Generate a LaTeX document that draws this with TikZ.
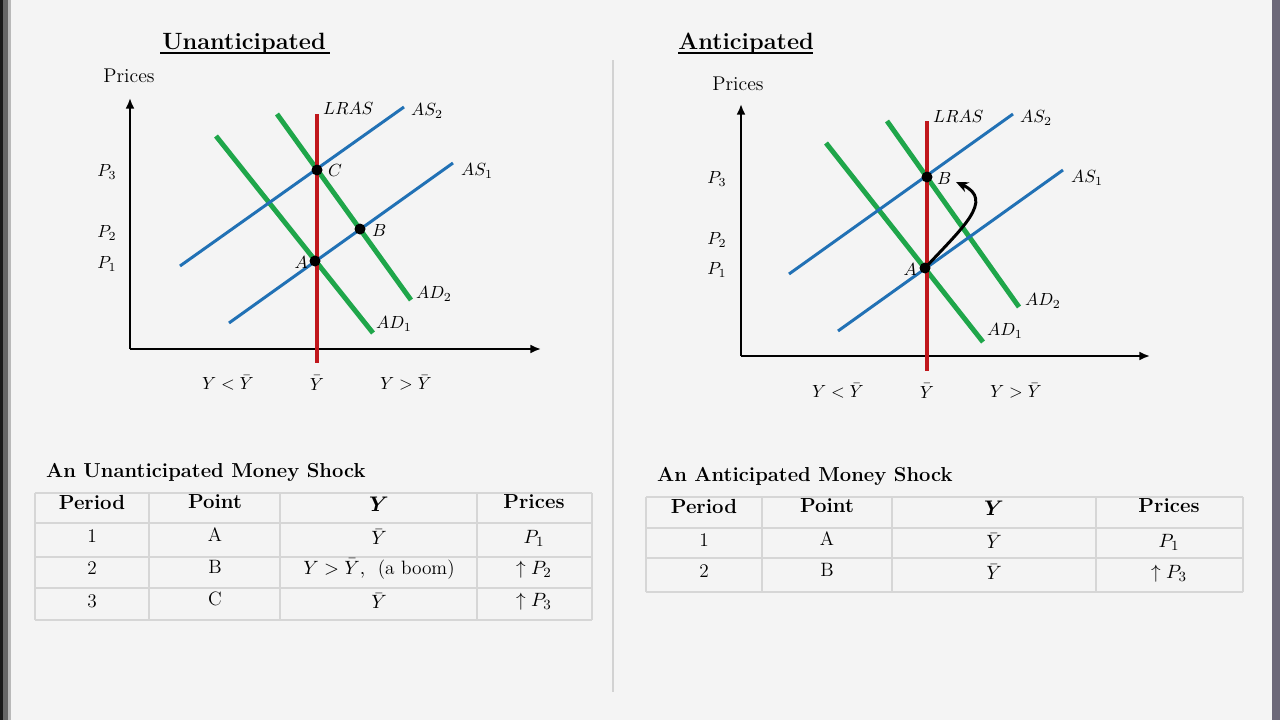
\documentclass[tikz,border=0pt]{standalone}
\usepackage{amsmath}
\usetikzlibrary{arrows.meta}
\definecolor{bg}{HTML}{F4F4F4}
\definecolor{asblue}{HTML}{2171B5}
\definecolor{adgreen}{HTML}{1FA64A}
\definecolor{lrasred}{HTML}{C0171C}
\definecolor{tblline}{HTML}{D6D6D6}
\definecolor{edgeR}{HTML}{6C6878}
\tikzset{
  lbl/.style={inner sep=1pt, font=\fontsize{10}{12}\selectfont},
  txt/.style={inner sep=1pt, font=\fontsize{11.3}{13}\selectfont},
  ttl/.style={inner sep=1pt, font=\fontsize{13.4}{15}\selectfont\bfseries},
  sub/.style={inner sep=1pt, font=\fontsize{11.5}{13}\selectfont\bfseries},
  hdr/.style={inner sep=0pt, font=\fontsize{11.6}{13}\selectfont\bfseries},
  cell/.style={inner sep=0pt, font=\fontsize{11}{13}\selectfont},
  axis/.style={line width=1.1pt, -{Latex[length=6pt,width=5pt]}},
  asline/.style={asblue, line width=1.7pt},
  adline/.style={adgreen, line width=2.8pt},
  lras/.style={lrasred, line width=2.2pt},
  tbl/.style={tblline, line width=0.8pt},
  dot/.style={fill=black},
}
\begin{document}
\begin{tikzpicture}[x=0.02cm,y=-0.02cm]
\useasboundingbox (0,0) rectangle (1280,720);
\fill[bg] (0,0) rectangle (1280,720);
% window edges
\fill[black!90] (0,0) rectangle (3,720);
\fill[gray!80!black] (3,0) rectangle (8,720);
\fill[gray!55] (8,0) rectangle (11,720);
\fill[edgeR] (1272,0) rectangle (1280,720);
% divider
\draw[gray!35, line width=0.8pt] (613,60) -- (613,692);

% ================= LEFT GRAPH =================
\node[ttl, anchor=base] (tL) at (244,49) {Unanticipated};
\draw[line width=0.8pt] (160,53) -- (330,53);
\node[txt] (pricesL) at (129,76) {Prices};
\coordinate (oL) at (130,349);
\draw[axis] (oL) -- (130,98);
\draw[axis] (oL) -- (541,349);
\draw[adline] (216,136) -- (373,333);
\draw[adline] (277,114) -- (411,300);
\draw[asline] (180,266) -- (404,107);
\draw[asline] (229,323) -- (453,163);
\draw[lras] (317,114) -- (317,363);
\coordinate (CL) at (317,170);
\coordinate (BL) at (360,229);
\coordinate (AL) at (315,261);
\fill[dot] (CL) circle[radius=0.11cm];
\fill[dot] (BL) circle[radius=0.11cm];
\fill[dot] (AL) circle[radius=0.11cm];
\node[lbl, anchor=west] (lrasL) at (321,108) {$LRAS$};
\node[lbl, anchor=west] (as2L) at (409,111) {$AS_2$};
\node[lbl, anchor=west] (as1L) at (459,171) {$AS_1$};
\node[lbl, anchor=west] (ad2L) at (414,294) {$AD_2$};
\node[lbl, anchor=west] (ad1L) at (374,324) {$AD_1$};
\node[lbl, anchor=west] (cL) at (326,170) {$C$};
\node[lbl, anchor=west] (bL) at (370,230) {$B$};
\node[lbl, anchor=east] (aL) at (310,262) {$A$};
\node[lbl] (p3L) at (107,172) {$P_3$};
\node[lbl] (p2L) at (107,233) {$P_2$};
\node[lbl] (p1L) at (107,264) {$P_1$};
\node[lbl] (ylL) at (228,383) {$Y<\bar{Y}$};
\node[lbl] (ybL) at (317,383) {$\bar{Y}$};
\node[lbl] (ygL) at (406,383) {$Y>\bar{Y}$};

% ================= RIGHT GRAPH =================
\node[ttl, anchor=base] (tR) at (746,49) {Anticipated};
\draw[line width=0.8pt] (678,53) -- (813,53);
\node[txt] (pricesR) at (738,84) {Prices};
\coordinate (oR) at (741,356);
\draw[axis] (oR) -- (741,104);
\draw[axis] (oR) -- (1150,356);
\draw[adline] (826,143) -- (983,342);
\draw[adline] (887,121) -- (1019,307);
\draw[asline] (789,274) -- (1013,114);
\draw[asline] (838,331) -- (1063,170);
\draw[lras] (927,121) -- (927,371);
\coordinate (BR) at (927,177);
\coordinate (AR) at (925,268);
\coordinate (tipR) at (956,182);
\draw[line width=1.7pt, -{Stealth[length=7pt,width=6pt]}] (AR) .. controls (962,228) and (995,200) .. (tipR);
\fill[dot] (BR) circle[radius=0.11cm];
\fill[dot] (AR) circle[radius=0.11cm];
\node[lbl, anchor=west] (lrasR) at (931,116) {$LRAS$};
\node[lbl, anchor=west] (as2R) at (1018,118) {$AS_2$};
\node[lbl, anchor=west] (as1R) at (1069,178) {$AS_1$};
\node[lbl, anchor=west] (ad2R) at (1023,301) {$AD_2$};
\node[lbl, anchor=west] (ad1R) at (985,331) {$AD_1$};
\node[lbl, anchor=west] (bR) at (935,178) {$B$};
\node[lbl, anchor=east] (aR) at (919,269) {$A$};
\node[lbl] (p3R) at (717,179) {$P_3$};
\node[lbl] (p2R) at (717,240) {$P_2$};
\node[lbl] (p1R) at (717,270) {$P_1$};
\node[lbl] (ylR) at (838,391) {$Y<\bar{Y}$};
\node[lbl] (ybR) at (927,391) {$\bar{Y}$};
\node[lbl] (ygR) at (1016,391) {$Y>\bar{Y}$};

% ================= LEFT TABLE =================
\node[sub, anchor=west] (stL) at (44,472) {An Unanticipated Money Shock};
\foreach \y in {493,523,557,588,620} \draw[tbl] (35,\y) -- (592,\y);
\foreach \x in {35,149,280,477,592} \draw[tbl] (\x,493) -- (\x,620);
\node[hdr] (h1L) at (92,502) {Period};
\node[hdr] (h2L) at (215,502) {Point};
\node[hdr] (h3L) at (379,504) {$\boldsymbol{Y}$};
\node[hdr] (h4L) at (534,502) {Prices};
\node[cell] (r11L) at (92,536) {1};
\node[cell] (r12L) at (215,535) {A};
\node[cell] (r13L) at (379,537) {$\bar{Y}$};
\node[cell] (r14L) at (534,538) {$P_1$};
\node[cell] (r21L) at (92,568) {2};
\node[cell] (r22L) at (215,567) {B};
\node[cell] (r23L) at (379,569) {$Y>\bar{Y},$\ \ (a boom)};
\node[cell] (r24L) at (534,570) {$\uparrow P_2$};
\node[cell] (r31L) at (92,601) {3};
\node[cell] (r32L) at (215,599) {C};
\node[cell] (r33L) at (379,601) {$\bar{Y}$};
\node[cell] (r34L) at (534,602) {$\uparrow P_3$};

% ================= RIGHT TABLE =================
\node[sub, anchor=west] (stR) at (655,476) {An Anticipated Money Shock};
\foreach \y in {497,528,558,592} \draw[tbl] (646,\y) -- (1243,\y);
\foreach \x in {646,762,892,1096,1243} \draw[tbl] (\x,497) -- (\x,592);
\node[hdr] (h1R) at (704,506) {Period};
\node[hdr] (h2R) at (827,506) {Point};
\node[hdr] (h3R) at (994,508) {$\boldsymbol{Y}$};
\node[hdr] (h4R) at (1169,506) {Prices};
\node[cell] (r11R) at (704,540) {1};
\node[cell] (r12R) at (827,539) {A};
\node[cell] (r13R) at (994,541) {$\bar{Y}$};
\node[cell] (r14R) at (1169,542) {$P_1$};
\node[cell] (r21R) at (704,571) {2};
\node[cell] (r22R) at (827,570) {B};
\node[cell] (r23R) at (994,572) {$\bar{Y}$};
\node[cell] (r24R) at (1169,574) {$\uparrow P_3$};
\end{tikzpicture}
\end{document}
